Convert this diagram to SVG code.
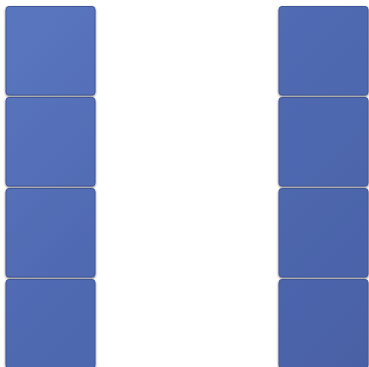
<svg xmlns="http://www.w3.org/2000/svg" width="369" height="367" viewBox="0 0 369 367">
<defs>
<linearGradient id="g" gradientUnits="userSpaceOnUse" x1="0" y1="0" x2="369" y2="367">
<stop offset="0" stop-color="#5a77c0"/>
<stop offset="0.5" stop-color="#4f69b0"/>
<stop offset="1" stop-color="#4a61a6"/>
</linearGradient>
<filter id="sh" x="-10%" y="-10%" width="120%" height="120%">
<feGaussianBlur in="SourceAlpha" stdDeviation="1.3"/>
<feOffset dx="0" dy="1" result="b"/>
<feComponentTransfer><feFuncA type="linear" slope="0.6"/></feComponentTransfer>
<feMerge><feMergeNode/><feMergeNode in="SourceGraphic"/></feMerge>
</filter>
</defs>
<style>
.box{fill:url(#g);stroke:#40569a;stroke-width:1;filter:url(#sh)}
</style>
<g id="connectors"></g>
<g id="n1"><rect class="box" x="6" y="6.5" width="89" height="88.5" rx="3"/></g>
<g id="n2"><rect class="box" x="6" y="97.5" width="89" height="88.5" rx="3"/></g>
<g id="n3"><rect class="box" x="6" y="188.5" width="89" height="88.5" rx="3"/></g>
<g id="n4"><rect class="box" x="6" y="279.5" width="89" height="88.5" rx="3"/></g>
<g id="n5"><rect class="box" x="279" y="6.5" width="89" height="88.5" rx="3"/></g>
<g id="n6"><rect class="box" x="279" y="97.5" width="89" height="88.5" rx="3"/></g>
<g id="n7"><rect class="box" x="279" y="188.5" width="89" height="88.5" rx="3"/></g>
<g id="n8"><rect class="box" x="279" y="279.5" width="89" height="88.5" rx="3"/></g>
</svg>
